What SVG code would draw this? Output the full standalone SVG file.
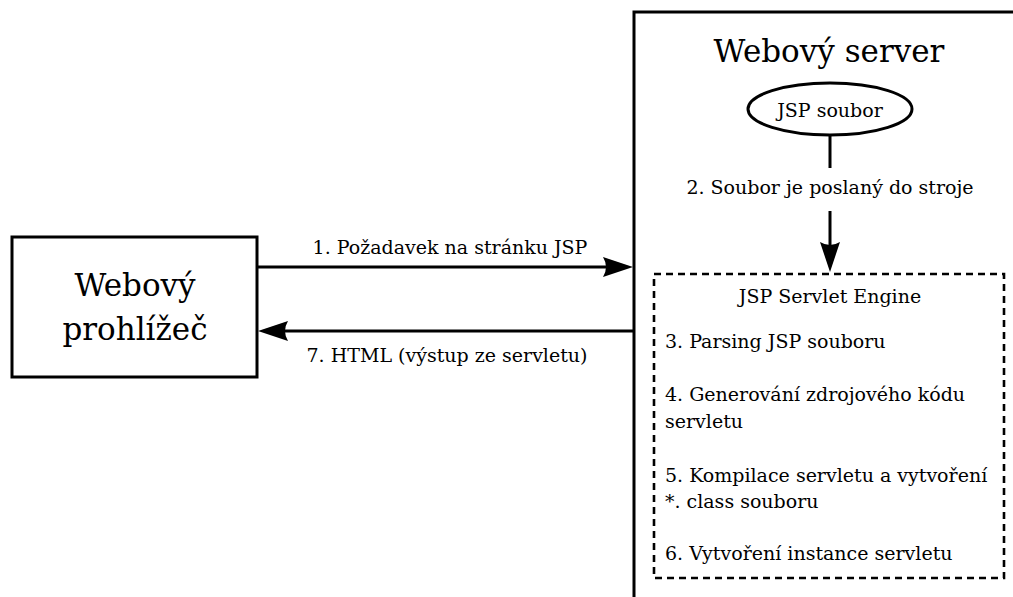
<svg xmlns="http://www.w3.org/2000/svg" width="1013" height="597" viewBox="0 0 1013 597">
  <style>
    .box { fill: #fff; stroke: #000; stroke-width: 3; }
    .dash { fill: none; stroke: #000; stroke-width: 2.6; stroke-dasharray: 7 5; }
    .wire { fill: none; stroke: #000; stroke-width: 3; }
    text { font-family: 'DejaVu Serif', serif; fill: #000; }
    .big { font-size: 31px; }
    .txt { font-size: 19px; }
    .mid { text-anchor: middle; }
  </style>
  <defs>
    <marker id="head" viewBox="0 0 30 20" refX="15" refY="10" markerWidth="30" markerHeight="20" orient="auto" markerUnits="userSpaceOnUse">
      <path d="M0,0 L30,10 L0,20 Q6,10 0,0 Z" fill="#000"/>
    </marker>
  </defs>

  <!-- web server container (runs past the right and bottom edges) -->
  <g id="server">
    <rect class="box" x="634" y="12" width="420" height="620"/>
    <text class="big mid" x="829" y="62">Webový server</text>
  </g>

  <!-- browser -->
  <g id="browser">
    <rect class="box" x="12" y="237" width="245" height="140"/>
    <text class="big mid" x="135" y="296">Webový</text>
    <text class="big mid" x="135" y="340">prohlížeč</text>
  </g>

  <!-- JSP file -->
  <g id="jsp-file">
    <ellipse class="box" cx="830" cy="109" rx="82" ry="26"/>
    <text class="txt mid" x="830" y="117">JSP soubor</text>
  </g>

  <!-- servlet engine with its processing steps -->
  <g id="engine">
    <rect class="dash" x="654" y="274" width="350" height="304"/>
    <text class="txt mid" x="830" y="303">JSP Servlet Engine</text>
    <text class="txt" x="665" y="348">3. Parsing JSP souboru</text>
    <text class="txt" x="665" y="401">4. Generování zdrojového kódu</text>
    <text class="txt" x="665" y="428">servletu</text>
    <text class="txt" x="665" y="482">5. Kompilace servletu a vytvoření</text>
    <text class="txt" x="665" y="508">*. class souboru</text>
    <text class="txt" x="665" y="560">6. Vytvoření instance servletu</text>
  </g>

  <!-- connectors -->
  <g id="connectors">
    <line class="wire" x1="257" y1="267" x2="618" y2="267" marker-end="url(#head)"/>
    <text class="txt mid" x="450" y="254">1. Požadavek na stránku JSP</text>

    <line class="wire" x1="633" y1="331" x2="273" y2="331" marker-end="url(#head)"/>
    <text class="txt mid" x="447" y="362">7. HTML (výstup ze servletu)</text>

    <line class="wire" x1="830" y1="135" x2="830" y2="168"/>
    <text class="txt mid" x="830" y="194">2. Soubor je poslaný do stroje</text>
    <line class="wire" x1="830" y1="211" x2="830" y2="257" marker-end="url(#head)"/>
  </g>
</svg>
